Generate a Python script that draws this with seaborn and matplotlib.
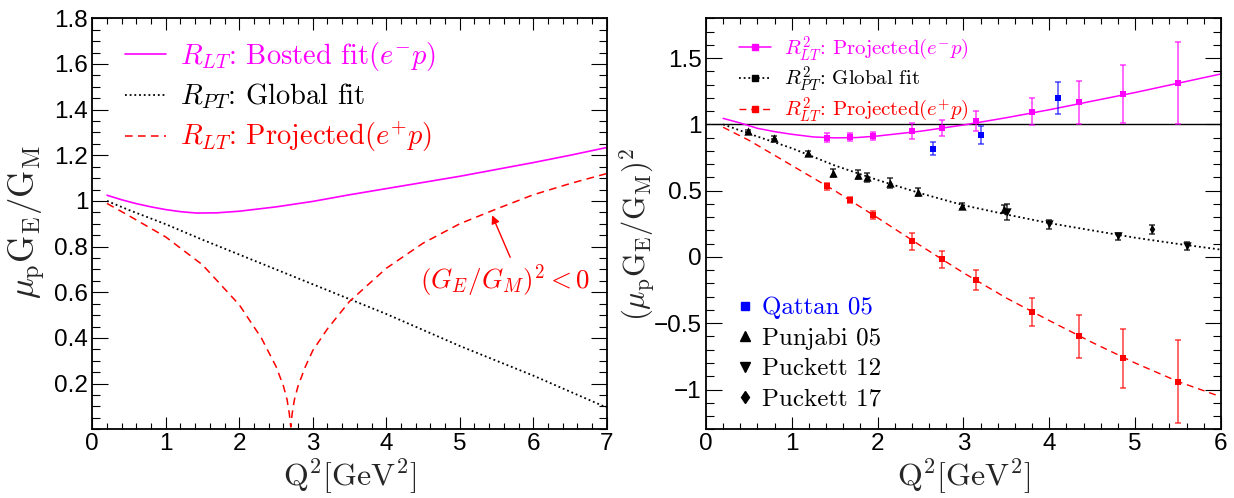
import numpy as np
import pandas as pd
import matplotlib
matplotlib.use("Agg")
import matplotlib.pyplot as plt
from matplotlib.lines import Line2D
from matplotlib.ticker import MultipleLocator, FixedLocator, FuncFormatter
import seaborn as sns

# ---------------- left panel: mu_p G_E / G_M ----------------
q_bosted = [0.2, 0.4, 0.6, 0.8, 1.0, 1.2, 1.42, 1.7, 2.0, 2.5, 3.0, 3.5, 4.0,
            4.5, 5.0, 5.5, 6.0, 6.5, 7.0]
r_bosted = [1.025, 1.005, 0.988, 0.974, 0.962, 0.953, 0.947, 0.948, 0.955,
            0.974, 0.998, 1.027, 1.054, 1.081, 1.108, 1.138, 1.168, 1.200, 1.234]

q_global = [0.2, 0.5, 1.0, 1.5, 2.0, 2.5, 3.0, 3.5, 4.0, 4.5, 5.0, 5.5, 6.0,
            6.5, 7.0]
r_global = [1.0, 0.96, 0.898, 0.83, 0.765, 0.70, 0.635, 0.57, 0.505, 0.435,
            0.365, 0.30, 0.235, 0.165, 0.095]

q_proj = [0.2, 0.5, 1.0, 1.5, 2.0, 2.3, 2.5, 2.6, 2.65, 2.68, 2.7, 2.72, 2.75,
          2.8, 2.9, 3.0, 3.2, 3.5, 4.0, 4.5, 5.0, 5.5, 6.0, 6.5, 7.0]
r_proj = [0.989, 0.935, 0.842, 0.72, 0.545, 0.40, 0.275, 0.19, 0.13, 0.07,
          0.01, 0.07, 0.13, 0.19, 0.275, 0.345, 0.44, 0.56, 0.705, 0.815, 0.90,
          0.965, 1.027, 1.076, 1.12]

# ---------------- right panel: (mu_p G_E / G_M)^2 ----------------
q2_em_fit = [0.2, 0.4, 0.6, 0.8, 1.0, 1.25, 1.5, 1.75, 2.0, 2.5, 3.0, 3.5,
             4.0, 4.5, 5.0, 5.5, 6.0]
r2_em_fit = [1.045, 1.01, 0.97, 0.945, 0.925, 0.905, 0.898, 0.90, 0.912,
             0.948, 0.995, 1.05, 1.11, 1.175, 1.24, 1.31, 1.38]

q2_pt_fit = [0.2, 0.5, 1.0, 1.5, 2.0, 2.5, 3.0, 3.5, 4.0, 4.5, 5.0, 5.5, 6.0]
r2_pt_fit = [1.0, 0.93, 0.82, 0.69, 0.58, 0.48, 0.39, 0.32, 0.255, 0.20,
             0.145, 0.098, 0.055]

q2_ep_fit = [0.2, 0.5, 1.0, 1.5, 2.0, 2.5, 3.0, 3.5, 4.0, 4.5, 5.0, 5.5, 6.0]
r2_ep_fit = [0.978, 0.88, 0.69, 0.50, 0.295, 0.085, -0.12, -0.31, -0.48,
             -0.645, -0.80, -0.94, -1.055]

# projected points (same Q^2 for e-p and e+p)
q2_projected = [1.406, 1.683, 1.949, 2.404, 2.745, 3.149, 3.80, 4.345, 4.86, 5.505]
r2_em = [0.900, 0.908, 0.915, 0.948, 0.975, 1.022, 1.095, 1.165, 1.230, 1.312]
err_em = [0.035, 0.03, 0.03, 0.06, 0.06, 0.075, 0.10, 0.16, 0.22, 0.31]
r2_ep = [0.532, 0.428, 0.315, 0.118, -0.018, -0.176, -0.418, -0.600, -0.766, -0.940]
err_ep = [0.025, 0.025, 0.03, 0.063, 0.063, 0.075, 0.105, 0.165, 0.225, 0.315]

q2_qattan = [2.645, 3.20, 4.10]
r2_qattan = [0.8175, 0.9225, 1.20]
err_qattan = [0.05, 0.068, 0.12]

q2_punjabi = [0.495, 0.792, 1.188, 1.485, 1.774, 1.881, 2.139, 2.475, 2.978, 3.477]
r2_punjabi = [0.95, 0.90, 0.7825, 0.6325, 0.62, 0.60, 0.5575, 0.49, 0.3825, 0.3625]
err_punjabi = [0.01, 0.01, 0.018, 0.03, 0.035, 0.035, 0.035, 0.03, 0.022, 0.03]

q2_puckett12 = [3.505, 4.0, 4.80, 5.60]
r2_puckett12 = [0.34, 0.245, 0.155, 0.08]
err_puckett12 = [0.06, 0.035, 0.025, 0.03]

q2_puckett17 = [5.20]
r2_puckett17 = [0.2075]
err_puckett17 = [0.035]

MAGENTA = "#ff00ff"
RED = "#ff0000"
BLUE = "#0000ff"

sns.set_theme(style="ticks")
plt.rcParams.update({
    "font.family": ["Liberation Sans", "DejaVu Sans"],
    "mathtext.fontset": "cm",
    "axes.linewidth": 1.3,
    "axes.edgecolor": "black",
    "xtick.direction": "in",
    "ytick.direction": "in",
    "xtick.top": True,
    "ytick.right": True,
    "xtick.color": "black",
    "ytick.color": "black",
    "axes.unicode_minus": True,
})

fig = plt.figure(figsize=(12.34, 4.98), dpi=100)
fig.patch.set_facecolor("white")
ax1 = fig.add_axes([0.0748, 0.1380, 0.4169, 0.8253])
ax2 = fig.add_axes([0.5721, 0.1380, 0.4173, 0.8253])

fmt = FuncFormatter(lambda v, p: f"{v:g}".replace("-", "\u2212"))


def style_axes(ax):
    ax.set_facecolor("white")
    for sp in ax.spines.values():
        sp.set_linewidth(1.3)
        sp.set_color("black")
    ax.tick_params(axis="x", which="major", length=8.6, width=0.8, labelsize=17.5, pad=3)
    ax.tick_params(axis="x", which="minor", length=4.3, width=0.8)
    ax.tick_params(axis="y", which="major", length=11.3, width=0.8, labelsize=17.5, pad=3)
    ax.tick_params(axis="y", which="minor", length=6.0, width=0.8)
    ax.xaxis.set_major_formatter(fmt)
    ax.yaxis.set_major_formatter(fmt)
    ax.xaxis.set_minor_locator(MultipleLocator(0.2))
    ax.xaxis.set_major_locator(MultipleLocator(1))


# ---- left panel ----
sns.lineplot(x=q_bosted, y=r_bosted, ax=ax1, color=MAGENTA, lw=1.2,
             estimator=None, sort=False)
sns.lineplot(x=q_global, y=r_global, ax=ax1, color="black", lw=1.3,
             linestyle=(0, (1, 1.6)), estimator=None, sort=False)
sns.lineplot(x=q_proj, y=r_proj, ax=ax1, color=RED, lw=1.1,
             linestyle=(0, (5, 3.5)), estimator=None, sort=False)

ax1.set_xlim(0, 7)
ax1.set_ylim(0, 1.8)
style_axes(ax1)
ax1.yaxis.set_major_locator(FixedLocator(np.round(np.arange(0.2, 1.81, 0.2), 1)))
ax1.yaxis.set_minor_locator(MultipleLocator(0.05))

ax1.set_xlabel(r"$\mathrm{Q^2[GeV^2]}$", fontsize=23)
ax1.set_ylabel(r"$\mu_{\mathrm{p}}\mathrm{G_E/G_M}$", fontsize=25)
ax1.xaxis.set_label_coords(0.5, -0.066)
ax1.yaxis.set_label_coords(-0.086, 0.504)

h_left = [Line2D([], [], color=MAGENTA, lw=1.2),
          Line2D([], [], color="black", lw=1.3, ls=(0, (1, 1.6))),
          Line2D([], [], color=RED, lw=1.1, ls=(0, (5, 3.5)))]
l_left = [r"$R_{LT}$: Bosted fit$(e^{-}p)$",
          r"$R_{PT}$: Global fit",
          r"$R_{LT}$: Projected$(e^{+}p)$"]
leg1 = ax1.legend(h_left, l_left, loc="upper left", bbox_to_anchor=(0.0636, 0.947),
                  frameon=False, prop={"family": "cmr10", "size": 20.5},
                  handlelength=1.45, handletextpad=0.48, labelspacing=0.3,
                  borderpad=0, borderaxespad=0,
                  labelcolor=[MAGENTA, "black", RED])

ax1.annotate(r"$(G_E/G_M)^2 < 0$", xy=(5.44, 0.937), xytext=(5.62, 0.653),
             ha="center", va="center", color=RED, fontsize=19.5,
             arrowprops=dict(arrowstyle="-|>", color=RED, lw=1.0,
                             mutation_scale=12, relpos=(0.54, 1.0),
                             shrinkA=1, shrinkB=0))

# ---- right panel ----
ax2.axhline(1.0, color="black", lw=1.0, zorder=1)
sns.lineplot(x=q2_em_fit, y=r2_em_fit, ax=ax2, color=MAGENTA, lw=1.1,
             estimator=None, sort=False)
sns.lineplot(x=q2_pt_fit, y=r2_pt_fit, ax=ax2, color="black", lw=1.3,
             linestyle=(0, (1, 1.6)), estimator=None, sort=False)
sns.lineplot(x=q2_ep_fit, y=r2_ep_fit, ax=ax2, color=RED, lw=1.0,
             linestyle=(0, (5, 3.5)), estimator=None, sort=False)

err_kw = dict(fmt="none", elinewidth=1.1, capsize=2.2, capthick=1.1, zorder=3)
ax2.errorbar(q2_projected, r2_em, yerr=err_em, ecolor=MAGENTA, alpha=0.75, **err_kw)
ax2.errorbar(q2_projected, r2_ep, yerr=err_ep, ecolor=RED, alpha=0.75, **err_kw)
ax2.errorbar(q2_qattan, r2_qattan, yerr=err_qattan, ecolor=BLUE, alpha=0.7, **err_kw)
ax2.errorbar(q2_punjabi, r2_punjabi, yerr=err_punjabi, ecolor="black", alpha=0.8, **err_kw)
ax2.errorbar(q2_puckett12, r2_puckett12, yerr=err_puckett12, ecolor="black", alpha=0.8, **err_kw)
ax2.errorbar(q2_puckett17, r2_puckett17, yerr=err_puckett17, ecolor="black", alpha=0.8, **err_kw)

sc_kw = dict(linewidth=0, zorder=4, legend=False)
sns.scatterplot(x=q2_projected, y=r2_em, ax=ax2, marker="s", s=14, color=MAGENTA, **sc_kw)
sns.scatterplot(x=q2_projected, y=r2_ep, ax=ax2, marker="s", s=14, color=RED, **sc_kw)
sns.scatterplot(x=q2_qattan, y=r2_qattan, ax=ax2, marker="s", s=14, color=BLUE, **sc_kw)
sns.scatterplot(x=q2_punjabi, y=r2_punjabi, ax=ax2, marker="^", s=36, color="black", **sc_kw)
sns.scatterplot(x=q2_puckett12, y=r2_puckett12, ax=ax2, marker="v", s=36, color="black", **sc_kw)
sns.scatterplot(x=q2_puckett17, y=r2_puckett17, ax=ax2, marker="d", s=22, color="black", **sc_kw)

ax2.set_xlim(0, 6)
ax2.set_ylim(-1.3, 1.8)
style_axes(ax2)
ax2.yaxis.set_major_locator(MultipleLocator(0.5))
ax2.yaxis.set_minor_locator(MultipleLocator(0.1))

ax2.set_xlabel(r"$\mathrm{Q^2[GeV^2]}$", fontsize=23)
ax2.set_ylabel(r"$(\mu_{\mathrm{p}}\mathrm{G_E/G_M})^2$", fontsize=22)
ax2.xaxis.set_label_coords(0.5, -0.066)
ax2.yaxis.set_label_coords(-0.096, 0.473)

h_top = [Line2D([], [], color=MAGENTA, lw=1.1, marker="s", ms=4),
         Line2D([], [], color="black", lw=1.3, ls=(0, (1, 1.6)), marker="s", ms=4),
         Line2D([], [], color=RED, lw=1.0, ls=(0, (5, 3.5)), marker="s", ms=4)]
l_top = [r"$R^{2}_{LT}$: Projected$(e^{-}p)$",
         r"$R^{2}_{PT}$: Global fit",
         r"$R^{2}_{LT}$: Projected$(e^{+}p)$"]
leg_top = ax2.legend(h_top, l_top, loc="upper left", bbox_to_anchor=(0.064, 0.962),
                     frameon=False, prop={"family": "cmr10", "size": 15},
                     handlelength=1.55, handletextpad=0.6, labelspacing=0.08,
                     borderpad=0, borderaxespad=0,
                     labelcolor=[MAGENTA, "black", RED])
ax2.add_artist(leg_top)

h_data = [Line2D([], [], ls="none", marker="s", ms=6, color=BLUE),
          Line2D([], [], ls="none", marker="^", ms=7, color="black"),
          Line2D([], [], ls="none", marker="v", ms=7, color="black"),
          Line2D([], [], ls="none", marker="d", ms=6, color="black")]
l_data = ["Qattan 05", "Punjabi 05", "Puckett 12", "Puckett 17"]
ax2.legend(h_data, l_data, loc="upper left", bbox_to_anchor=(0.061, 0.322),
           frameon=False, prop={"family": "cmr10", "size": 18},
           handlelength=0.6, handletextpad=0.4, labelspacing=0.32,
           borderpad=0, borderaxespad=0,
           labelcolor=[BLUE, "black", "black", "black"])

fig.savefig("out.png", dpi=100, facecolor="white")
